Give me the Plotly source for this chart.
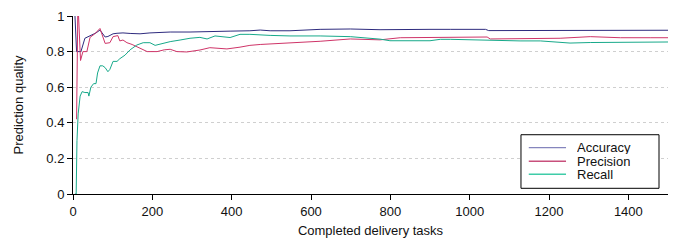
import plotly.graph_objects as go

# ---- data ----
acc_x = [5, 9, 12, 20, 30, 38, 43, 50, 58, 68, 75, 81, 88, 101, 111, 126, 144, 169, 194, 220, 245, 295, 320, 358, 396, 446, 472, 497, 547, 623, 699, 774, 825, 900, 951, 1040, 1048, 1077, 1127, 1178, 1228, 1304, 1380, 1455, 1500]
acc_y = [1.0, 0.80, 0.80, 0.80, 0.875, 0.884, 0.888, 0.893, 0.905, 0.921, 0.90, 0.882, 0.885, 0.90, 0.903, 0.905, 0.902, 0.90, 0.905, 0.908, 0.91, 0.91, 0.912, 0.912, 0.915, 0.917, 0.921, 0.917, 0.917, 0.925, 0.927, 0.923, 0.925, 0.925, 0.925, 0.925, 0.918, 0.918, 0.92, 0.921, 0.921, 0.922, 0.92, 0.92, 0.92]

prec_x = [9, 12, 14, 19, 25, 35, 43, 55, 68, 81, 93, 101, 113, 118, 126, 136, 149, 169, 187, 212, 230, 245, 262, 287, 320, 345, 388, 421, 446, 472, 497, 547, 623, 699, 774, 825, 900, 951, 1044, 1052, 1127, 1178, 1228, 1304, 1380, 1455, 1500]
prec_y = [0.42, 1.0, 1.0, 0.75, 0.80, 0.80, 0.88, 0.90, 0.93, 0.846, 0.85, 0.884, 0.89, 0.86, 0.865, 0.85, 0.84, 0.82, 0.80, 0.80, 0.81, 0.813, 0.80, 0.798, 0.809, 0.822, 0.815, 0.825, 0.835, 0.84, 0.843, 0.848, 0.858, 0.871, 0.866, 0.878, 0.878, 0.88, 0.882, 0.871, 0.871, 0.875, 0.875, 0.884, 0.878, 0.878, 0.878]

rec_x = [5, 8, 10, 13, 18, 23, 30, 38, 40, 45, 52, 58, 62, 68, 75, 81, 88, 93, 101, 111, 118, 131, 144, 161, 177, 194, 207, 225, 245, 270, 295, 320, 338, 358, 396, 421, 446, 497, 547, 623, 699, 774, 799, 900, 926, 951, 1044, 1077, 1127, 1178, 1216, 1253, 1304, 1380, 1455, 1500]
rec_y = [0.0, 0.0, 0.30, 0.45, 0.55, 0.575, 0.57, 0.57, 0.55, 0.60, 0.62, 0.62, 0.68, 0.72, 0.72, 0.71, 0.687, 0.70, 0.745, 0.745, 0.76, 0.78, 0.81, 0.837, 0.85, 0.85, 0.835, 0.845, 0.856, 0.865, 0.875, 0.88, 0.871, 0.888, 0.879, 0.897, 0.897, 0.891, 0.888, 0.888, 0.884, 0.87, 0.861, 0.861, 0.869, 0.869, 0.865, 0.86, 0.86, 0.86, 0.856, 0.848, 0.851, 0.852, 0.854, 0.854]

series_names = ["Accuracy", "Precision", "Recall"]
series_colors = ["#2e2b7e", "#cf3468", "#17a98a"]
legend_colors = ["#8585bd", "#c8507c", "#3fcca8"]
x_ticks = [0, 200, 400, 600, 800, 1000, 1200, 1400]
y_ticks = [0, 0.2, 0.4, 0.6, 0.8, 1]

FONT = "Liberation Sans, Arial, Helvetica, sans-serif"

fig = go.Figure()
for name, xs, ys, col in zip(series_names, [acc_x, prec_x, rec_x], [acc_y, prec_y, rec_y], series_colors):
    fig.add_trace(go.Scatter(x=xs, y=ys, mode="lines", name=name,
                             line=dict(color=col, width=1), showlegend=False))

# custom legend box
shapes = [dict(type="rect", xref="paper", yref="paper",
               x0=0.7529, x1=0.9849, y0=0.032, y1=0.333,
               line=dict(color="black", width=1), fillcolor="white", layer="above")]
annotations = []
leg_y = [0.260, 0.184, 0.111]
for name, col, yy in zip(series_names, legend_colors, leg_y):
    shapes.append(dict(type="line", xref="paper", yref="paper",
                       x0=0.766, x1=0.8286, y0=yy, y1=yy,
                       line=dict(color=col, width=1.3), layer="above"))
    annotations.append(dict(xref="paper", yref="paper", x=0.8437, y=yy,
                            xanchor="left", yanchor="middle", text=name, showarrow=False,
                            height=13, valign="middle",
                            font=dict(family=FONT, size=13, color="#111")))

fig.update_layout(
    width=677, height=241,
    margin=dict(l=73, r=9, t=16, b=47, autoexpand=False),
    paper_bgcolor="white", plot_bgcolor="white",
    font=dict(family=FONT, size=13, color="#111"),
    shapes=shapes, annotations=annotations,
    showlegend=False,
)
fig.update_xaxes(range=[0, 1500], tickvals=x_ticks, showline=True, linecolor="black", linewidth=1,
                 ticks="outside", ticklen=5, tickcolor="black", showgrid=False, zeroline=False,
                 automargin=False, tickfont=dict(size=13),
                 title=dict(text="Completed delivery tasks", standoff=8, font=dict(size=13)))
fig.update_yaxes(range=[0, 1], tickvals=y_ticks, showline=True, linecolor="black", linewidth=1,
                 ticks="outside", ticklen=5, tickcolor="black", showgrid=True, gridcolor="#cfcfcf",
                 griddash="3px,3px", gridwidth=1, zeroline=False,
                 automargin=False, tickfont=dict(size=13),
                 title=dict(text="Prediction quality", standoff=19, font=dict(size=13)))

fig.write_html("out.html", config={"displayModeBar": False},
               post_script="document.body.style.margin='0';")
